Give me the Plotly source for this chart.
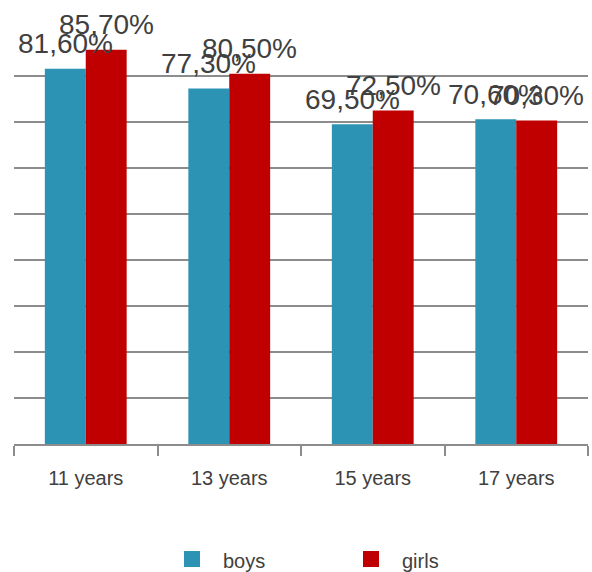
import plotly.graph_objects as go

# Share of respondents by age group and gender (percent)
age_groups = ["11 years", "13 years", "15 years", "17 years"]
boys = [81.6, 77.3, 69.5, 70.6]
girls = [85.7, 80.5, 72.5, 70.3]
series_names = ["boys", "girls"]

BOYS_COLOR = "#2C93B4"
GIRLS_COLOR = "#C00000"
TEXT_COLOR = "#404040"
GRID_COLOR = "#8C8C8C"
FONT = "Liberation Sans, Arial, sans-serif"

W, H = 592, 572
M_L, M_R, M_T, M_B = 14, 4, 30, 128


def pct(v):
    return f"{v:.2f}".replace(".", ",") + "%"


fig = go.Figure()
for name, vals, color in [(series_names[0], boys, BOYS_COLOR),
                          (series_names[1], girls, GIRLS_COLOR)]:
    fig.add_trace(go.Bar(
        x=age_groups, y=vals, name=name,
        marker=dict(color=color, line=dict(width=0)),
        showlegend=False,
    ))

# value labels above each bar
half_bar = 20.5
for vals, shift in [(boys, -half_bar), (girls, half_bar)]:
    for cat, v in zip(age_groups, vals):
        fig.add_annotation(
            x=cat, y=v, text=pct(v), showarrow=False,
            xanchor="center", yanchor="middle",
            xshift=shift, yshift=25,
            font=dict(family=FONT, size=28, color=TEXT_COLOR),
        )

# legend drawn as swatches + labels below the axis
plot_w = W - M_L - M_R
plot_h = H - M_T - M_B


def px_to_paper(px, py):
    return (px - M_L) / plot_w, (H - M_B - py) / plot_h


legend_items = [(series_names[0], BOYS_COLOR, 184, 221),
                (series_names[1], GIRLS_COLOR, 363, 400)]
for name, color, sx, tx in legend_items:
    x0, y0 = px_to_paper(sx, 567)
    x1, y1 = px_to_paper(sx + 16, 551)
    fig.add_shape(type="rect", xref="paper", yref="paper",
                  x0=x0, y0=y0, x1=x1, y1=y1,
                  fillcolor=color, line=dict(width=0))
    lx, ly = px_to_paper(tx, 561)
    fig.add_annotation(xref="paper", yref="paper", x=lx, y=ly,
                       text=name, showarrow=False,
                       xanchor="left", yanchor="middle",
                       font=dict(family=FONT, size=20, color=TEXT_COLOR))

fig.update_layout(
    width=W, height=H,
    margin=dict(l=M_L, r=M_R, t=M_T, b=M_B, pad=0),
    paper_bgcolor="white", plot_bgcolor="white",
    barmode="group", bargap=0.43, bargroupgap=0,
    font=dict(family=FONT, color=TEXT_COLOR),
    showlegend=False,
)
fig.update_xaxes(
    type="category",
    showline=True, linecolor=GRID_COLOR, linewidth=2,
    ticks="outside", tickson="boundaries", ticklen=10,
    tickwidth=2, tickcolor=GRID_COLOR,
    tickfont=dict(family=FONT, size=20, color=TEXT_COLOR),
    ticklabelstandoff=15,
    showgrid=False,
)
fig.update_yaxes(
    range=[0, 90], dtick=10,
    showgrid=True, gridcolor=GRID_COLOR, gridwidth=2,
    showticklabels=False, zeroline=False, showline=False,
)

fig.write_html("out.html")
